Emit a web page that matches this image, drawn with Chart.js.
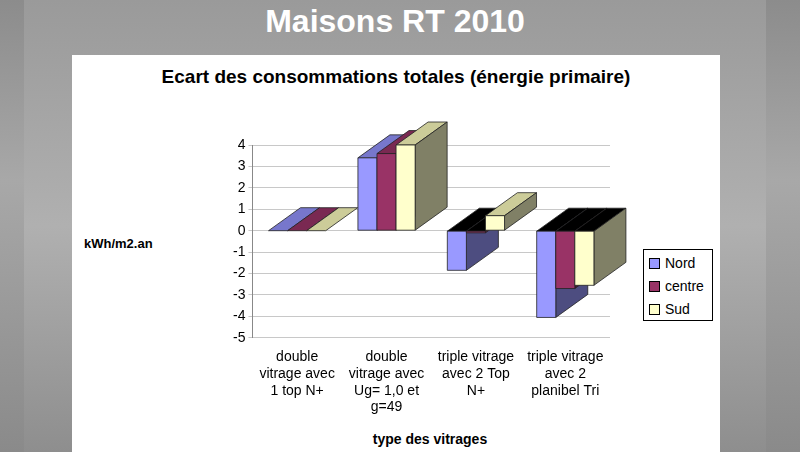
<!DOCTYPE html>
<html>
<head>
<meta charset="utf-8">
<script src="https://cdn.jsdelivr.net/npm/chart.js@4"></script>
<style>
  body { margin: 0; width: 800px; height: 452px; overflow: hidden; font-family: "Liberation Sans", Arial, sans-serif;
    background: linear-gradient(to bottom, #8c8c8c 0%, #a8a8a8 40%, #8a8a8a 100%); position: relative; }
  #slide { position: absolute; left: 24px; top: 0; width: 742px; height: 452px;
    background: linear-gradient(to bottom, #9a9a9a 0%, #b0b0b0 50%, #8e8e8e 100%); }
  #panel { position: absolute; left: 72px; top: 55px; width: 648px; height: 397px; background: #fff; }
  #bigTitle { position: absolute; left: 0; width: 790px; top: 3px; text-align: center; color: #fff;
    font-size: 32px; font-weight: bold; }
  #chartTitle { position: absolute; left: 72px; width: 648px; top: 66px; text-align: center;
    font-size: 19px; font-weight: bold; }
  #yTitle { position: absolute; left: 84px; top: 236px; font-size: 13px; font-weight: bold; }
  #xTitle { position: absolute; left: 250px; width: 360px; top: 431px; text-align: center; font-size: 14px; font-weight: bold; }
  #legend { position: absolute; left: 643px; top: 249px; width: 68px; height: 70px; border: 1px solid #000;
    background: #fff; font-size: 14px; }
  #legend div { height: 20px; margin-top: 3px; display: flex; align-items: center; }
  #legend span { display: inline-block; width: 9px; height: 9px; border: 1px solid #000; margin: 0 5px 0 5px; }
  canvas { position: absolute; left: 0; top: 0; }
</style>
</head>
<body>
<div id="slide"></div>
<div id="panel"></div>
<div id="bigTitle">Maisons RT 2010</div>
<div id="chartTitle">Ecart des consommations totales (énergie primaire)</div>
<div id="yTitle">kWh/m2.an</div>
<div id="xTitle">type des vitrages</div>
<div id="legend">
  <div><span style="background:#9999ff"></span>Nord</div>
  <div><span style="background:#993366"></span>centre</div>
  <div><span style="background:#ffffcc"></span>Sud</div>
</div>
<canvas id="chart" width="800" height="452"></canvas>
<script>
const categories = [
  ["double", "vitrage avec", "1 top N+"],
  ["double", "vitrage avec", "Ug= 1,0 et", "g=49"],
  ["triple vitrage", "avec 2 Top", "N+"],
  ["triple vitrage", "avec 2", "planibel Tri"]
];
const nord = [0, 3.4, -1.85, -4.05];
const centre = [0, 3.6, -0.1, -2.7];
const sud = [0, 4.0, 0.7, -2.55];

const faceColors = [
  { front: "#9999ff", top: "#7777cc", side: "#4d4d80" },
  { front: "#993366", top: "#7a2952", side: "#4d1a33" },
  { front: "#ffffcc", top: "#cccc99", side: "#808066" }
];
const DX = 32, DY = -23;

function poly(ctx, pts, fill) {
  ctx.beginPath();
  ctx.moveTo(pts[0][0], pts[0][1]);
  for (let i = 1; i < pts.length; i++) ctx.lineTo(pts[i][0], pts[i][1]);
  ctx.closePath();
  ctx.fillStyle = fill;
  ctx.fill();
  ctx.strokeStyle = "#222";
  ctx.lineWidth = 0.8;
  ctx.stroke();
}

const bars3d = {
  id: "bars3d",
  beforeDatasetsDraw(chart) {
    const ctx = chart.ctx;
    const metas = chart.data.datasets.map((d, i) => chart.getDatasetMeta(i));
    for (let c = 0; c < categories.length; c++) {
      for (let d = 0; d < metas.length; d++) {
        const el = metas[d].data[c];
        const col = faceColors[d];
        const l = el.x - el.width / 2, r = el.x + el.width / 2;
        const yv = el.y, y0 = el.base;
        const top = Math.min(yv, y0), bot = Math.max(yv, y0);
        const neg = yv > y0;
        poly(ctx, [[l, top], [r, top], [r + DX, top + DY], [l + DX, top + DY]], neg ? "#000" : col.top);
        if (bot > top) poly(ctx, [[r, top], [r + DX, top + DY], [r + DX, bot + DY], [r, bot]], col.side);
        if (bot > top) poly(ctx, [[l, top], [r, top], [r, bot], [l, bot]], col.front);
      }
    }
    return false;
  }
};

new Chart(document.getElementById("chart"), {
  type: "bar",
  data: {
    labels: categories,
    datasets: [
      { label: "Nord", data: nord, backgroundColor: faceColors[0].front },
      { label: "centre", data: centre, backgroundColor: faceColors[1].front },
      { label: "Sud", data: sud, backgroundColor: faceColors[2].front }
    ]
  },
  options: {
    responsive: false,
    animation: false,
    layout: { padding: { left: 230, right: 190, top: 145, bottom: 33 } },
    categoryPercentage: 0.64,
    barPercentage: 1,
    plugins: { legend: { display: false }, tooltip: { enabled: false } },
    scales: {
      y: {
        min: -5, max: 4,
        ticks: { stepSize: 1, color: "#000", font: { size: 14, family: "Liberation Sans" } },
        grid: { color: "#c8c8c8", drawTicks: true, tickLength: 4 },
        border: { color: "#888" }
      },
      x: {
        ticks: { color: "#000", maxRotation: 0, autoSkip: false, padding: 3, font: { size: 14, family: "Liberation Sans", lineHeight: 1.2 } },
        grid: { display: false },
        border: { display: false }
      }
    }
  },
  plugins: [bars3d]
});
</script>
</body>
</html>
